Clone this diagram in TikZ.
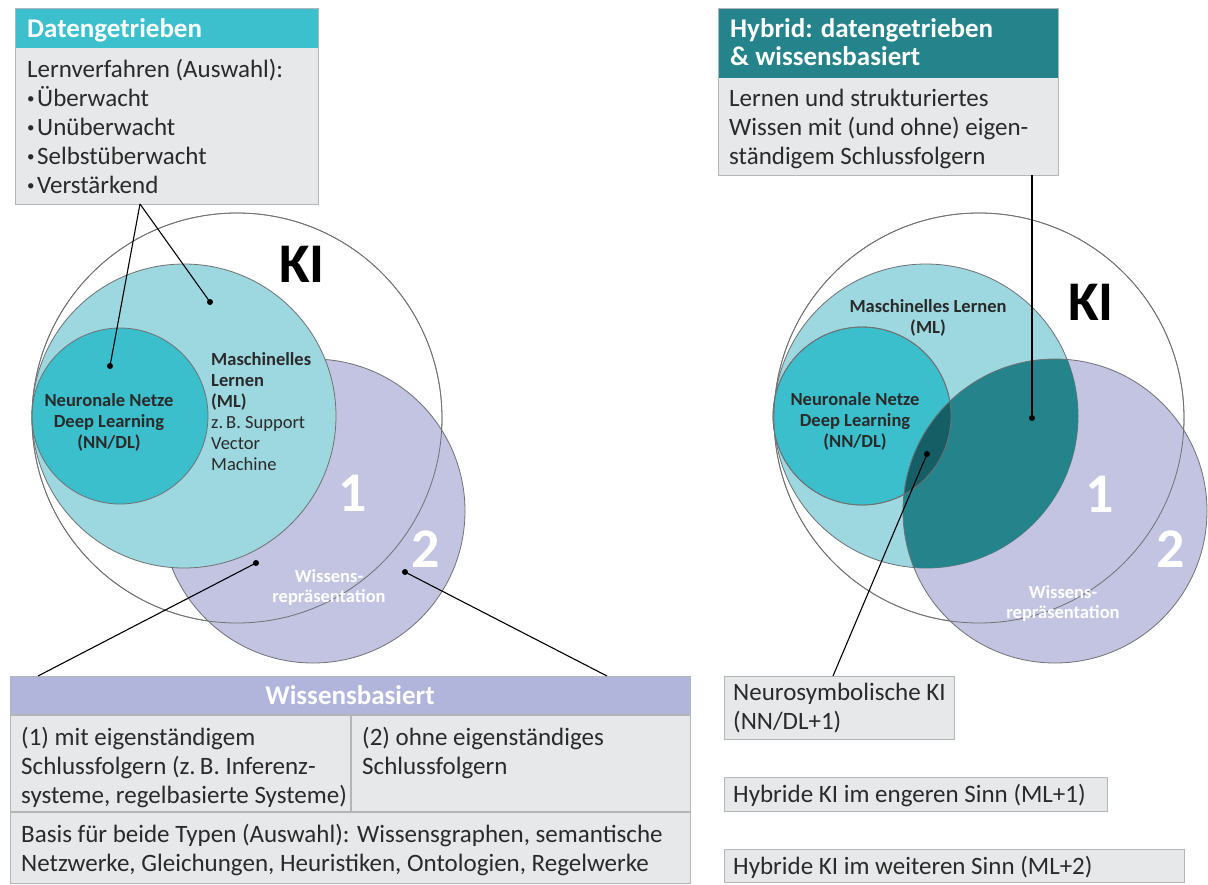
\documentclass[tikz,border=0pt]{standalone}
\usepackage{fontspec}
\setmainfont{Carlito}
\definecolor{hdteal}{HTML}{3DC0CD}
\definecolor{mlc}{HTML}{9DD7E0}
\definecolor{nnc}{HTML}{3BBFCC}
\definecolor{lav}{HTML}{C2C4E2}
\definecolor{wbh}{HTML}{B2B5DB}
\definecolor{dkteal}{HTML}{24838B}
\definecolor{dkteal2}{HTML}{165E66}
\definecolor{gbox}{HTML}{E7E8E9}
\definecolor{bline}{HTML}{B4B5B7}
\definecolor{cline}{HTML}{707173}
\definecolor{tcol}{HTML}{2A2A2A}
\newcommand\sx[1]{\rule{0pt}{#1pt}}
\newcommand\bul{\hbox to 10pt{\raisebox{2.5pt}{\fontsize{15}{15}\selectfont•}\hss}}
\begin{document}
\begin{tikzpicture}[x=1pt,y=-1pt,
  circ/.style={draw=cline, line width=0.8pt},
  boxnode/.style={draw=bline, line width=1.2pt, fill=gbox, anchor=north west, inner sep=0pt},
  hdnode/.style={fill=#1, anchor=north west, inner sep=0pt},
  conn/.style={draw=black, line width=1.1pt},
  dotm/.style={fill=black, circle, inner sep=0pt, minimum size=6pt},
  body/.style={inner sep=0pt, text=tcol, align=left, anchor=north west, font=\fontsize{25}{29}\selectfont},
  hdtxt/.style={inner sep=0pt, text=white, align=left, anchor=north west, font=\fontsize{27}{28}\selectfont\bfseries},
  lbl/.style={inner sep=0pt, text=tcol, font=\fontsize{18.5}{21}\selectfont\bfseries},
  big/.style={inner sep=0pt, anchor=base, font=\fontsize{56}{56}\selectfont\bfseries},
  wlbl/.style={inner sep=0pt, text=white, align=center, anchor=north, font=\fontsize{18.5}{20}\selectfont\bfseries}
]
\useasboundingbox (0,0) rectangle (1208,884);

% ================= LEFT VENN =================
\coordinate (KIL) at (237,418);
\coordinate (MLL) at (184,416);
\coordinate (NNL) at (120,416);
\coordinate (WRL) at (313,511);
\fill[white] (KIL) circle[radius=205pt];
\draw[circ] (KIL) circle[radius=205pt];
\fill[lav] (WRL) circle[radius=152pt];
\draw[circ] (WRL) circle[radius=152pt];
\fill[mlc] (MLL) circle[radius=152pt];
\draw[circ] (MLL) circle[radius=152pt];
\fill[nnc] (NNL) circle[radius=88pt];
\draw[circ] (NNL) circle[radius=88pt];
\draw[circ] (KIL) circle[radius=205pt];

\node[big, text=black] (kiL) at (302,282) {KI};
\node[big, text=white] (oneL) at (353,511) {1};
\node[big, text=white] (twoL) at (426,567) {2};
\node[lbl, align=left, anchor=north west] (mlL) at (211,348) {\sx{17}Maschinelles\\Lernen\\(ML)\\{\mdseries z.\,B. Support}\\{\mdseries Vector}\\{\mdseries Machine}};
\node[lbl, align=center, anchor=north] (nnL) at (109,389) {\sx{17}Neuronale Netze\\Deep Learning\\(NN/DL)};
\node[wlbl] (wrL) at (329,566) {\sx{16}Wissens-\\repräsentation};

% ================= RIGHT VENN =================
\coordinate (KIR) at (979,418);
\coordinate (MLR) at (926,416);
\coordinate (NNR) at (862,416);
\coordinate (WRR) at (1055,511);
\fill[white] (KIR) circle[radius=205pt];
\draw[circ] (KIR) circle[radius=205pt];
\fill[lav] (WRR) circle[radius=152pt];
\fill[mlc] (MLR) circle[radius=152pt];
\draw[circ] (MLR) circle[radius=152pt];
\fill[nnc] (NNR) circle[radius=89pt];
\draw[circ] (NNR) circle[radius=89pt];
\begin{scope}
  \clip (WRR) circle[radius=152pt];
  \fill[dkteal] (MLR) circle[radius=152pt];
  \clip (NNR) circle[radius=89pt];
  \fill[dkteal2] (NNR) circle[radius=89pt];
\end{scope}
\draw[circ] (WRR) circle[radius=152pt];
\draw[circ] (NNR) circle[radius=89pt];
\draw[circ] (KIR) circle[radius=205pt];

\node[big, text=black] (kiR) at (1091,320) {KI};
\node[big, text=white] (oneR) at (1100,512) {1};
\node[big, text=white] (twoR) at (1171,567) {2};
\node[lbl, align=center, anchor=north] (mlR) at (928,295) {\sx{17}Maschinelles Lernen\\(ML)};
\node[lbl, align=center, anchor=north] (nnR) at (855,388) {\sx{17}Neuronale Netze\\Deep Learning\\(NN/DL)};
\node[wlbl] (wrR) at (1063,582) {\sx{16}Wissens-\\repräsentation};

% ================= DATENGETRIEBEN BOX =================
\node[boxnode, minimum width=303pt, minimum height=196pt] (datbox) at (15,8) {};
\node[hdnode=hdteal, minimum width=302pt, minimum height=39pt] (dathd) at (15.6,8.6) {};
\node[hdtxt] (dattitle) at (27,17) {\sx{20}Datengetrieben};
\node[body] (datbody) at (27,55) {\sx{22}Lernverfahren (Auswahl):\\
\bul Überwacht\\
\bul Unüberwacht\\
\bul Selbstüberwacht\\
\bul Verstärkend};

% ================= HYBRID BOX =================
\node[boxnode, minimum width=340pt, minimum height=167pt] (hybbox) at (718,8) {};
\node[hdnode=dkteal, minimum width=339pt, minimum height=69pt] (hybhd) at (718.6,8.6) {};
\node[hdtxt] (hybtitle) at (730,17) {\sx{20}Hybrid: datengetrieben\\\& wissensbasiert};
\node[body] (hybbody) at (729,84) {\sx{22}Lernen und strukturiertes\\Wissen mit (und ohne) eigen-\\ständigem Schlussfolgern};

% ================= WISSENSBASIERT BOX =================
\node[boxnode, minimum width=680pt, minimum height=207pt] (wbbox) at (10,676) {};
\node[hdnode=wbh, minimum width=679pt, minimum height=39pt] (wbhd) at (10.6,676.6) {};
\draw[draw=bline, line width=1.2pt] (10,715) -- (690,715);
\draw[draw=bline, line width=1.2pt] (10,812) -- (690,812);
\draw[draw=bline, line width=1.2pt] (351,715) -- (351,812);
\node[hdtxt, anchor=base] (wbtitle) at (350,704) {Wissensbasiert};
\node[body] (wb1) at (21,723) {\sx{22}(1) mit eigenständigem\\Schlussfolgern (z.\,B. Inferenz-\\systeme, regelbasierte Systeme)};
\node[body] (wb2) at (362,723) {\sx{22}(2) ohne eigenständiges\\Schlussfolgern};
\node[body] (wb3) at (21,820) {\sx{22}Basis für beide Typen (Auswahl): Wissensgraphen, semantische\\Netzwerke, Gleichungen, Heuristiken, Ontologien, Regelwerke};

% ================= RIGHT SMALL BOXES =================
\node[boxnode, minimum width=230pt, minimum height=63pt] (neubox) at (724,676) {};
\node[body] (neutxt) at (733,678) {\sx{22}Neurosymbolische KI\\(NN/DL+1)};
\node[boxnode, minimum width=383pt, minimum height=34pt] (engbox) at (724,777) {};
\node[body] (engtxt) at (733,780) {\sx{22}Hybride KI im engeren Sinn (ML+1)};
\node[boxnode, minimum width=460pt, minimum height=33pt] (weibox) at (724,849) {};
\node[body] (weitxt) at (733,852) {\sx{22}Hybride KI im weiteren Sinn (ML+2)};

% ================= CONNECTORS =================
\node[dotm] (dNNL) at (110,366) {};
\node[dotm] (dMLL) at (210,302) {};
\node[dotm] (dW1L) at (256,563) {};
\node[dotm] (dW2L) at (405,572) {};
\node[dotm] (dMLW) at (1032,418) {};
\node[dotm] (dNNW) at (927,454) {};
\coordinate (datfoot) at (140,204);
\coordinate (wbL) at (38,676);
\coordinate (wbR) at (607,676);
\coordinate (hybfoot) at (1032,175);
\coordinate (neutop) at (833,676);
\draw[conn] (datfoot) -- (dNNL.center);
\draw[conn] (datfoot) -- (dMLL.center);
\draw[conn] (dW1L.center) -- (wbL);
\draw[conn] (dW2L.center) -- (wbR);
\draw[conn] (hybfoot) -- (dMLW.center);
\draw[conn] (dNNW.center) -- (neutop);
\end{tikzpicture}
\end{document}
